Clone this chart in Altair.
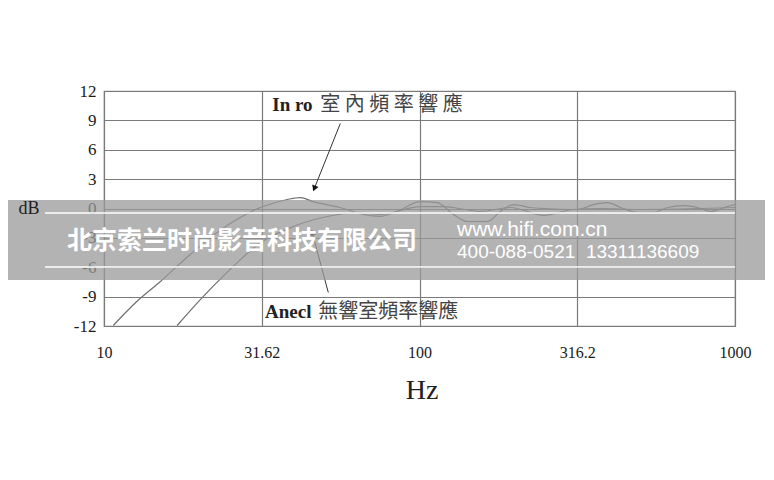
import altair as alt
import pandas as pd

# ---- data ----
room_f = [10.7, 12.7, 15.1, 18.3, 21.7, 25.7, 31.3, 38.1, 41.9, 46.0, 56.0, 66.3, 75.0, 85.0,
          100.6, 113.9, 128.1, 142.0, 164.3, 180.4, 198.5, 224.8, 247.6, 316.7, 356, 395,
          434, 491, 552, 612, 688, 761, 837, 947, 1000]
room_db = [-11.95, -9.5, -7.45, -5.0, -3.0, -1.33, 0.1, 0.92, 1.12, 0.7, 0.1, -0.6, -0.8, -0.3,
           0.7, 0.6, -0.6, -1.33, -1.33, -0.3, 0.4, 0.1, 0.0, -0.1, 0.4, 0.6,
           0.1, -0.4, -0.4, 0.1, 0.3, 0.1, -0.3, 0.2, 0.4]

anech_f = [17.05, 20.2, 24.6, 31.3, 39.8, 51.0, 64.9, 75.0, 100.6, 119.0, 156, 194, 248, 307,
           374, 503, 778, 1000]
anech_db = [-11.95, -9.3, -6.5, -3.5, -1.84, -0.82, -0.41, -0.6, 0.2, 0.2, -0.3, 0.1, -0.7, -0.1,
            0.0, -0.1, 0.0, 0.1]

x_ticks = [10, 31.62, 100, 316.2, 1000]
y_ticks = [-12, -9, -6, -3, 0, 3, 6, 9, 12]

# annotations (data coordinates)
ann_latin = ["In ro", "Anecl"]
ann_latin_f = [34.15, 32.4]
ann_cjk = ["室 內 頻 率 響 應", "無響室頻率響應"]
ann_cjk_f = [48.5, 47.8]
ann_db = [10.62, -10.62]

arrow_tail_f = [56.1, 51.4]
arrow_tail_db = [8.68, -8.58]
arrow_head_f = [46.4, 45.7]
arrow_head_db = [2.04, -2.45]
arrow_angle = [202, 346]

company = "北京索兰时尚影音科技有限公司"
site = "www.hifi.com.cn"
phone = "400-088-0521\u00a0\u00a013311136609"

# ---- tables ----
curves = pd.concat([
    pd.DataFrame({"f": room_f, "db": room_db, "s": "room"}),
    pd.DataFrame({"f": anech_f, "db": anech_db, "s": "anech"}),
])
ann_l = pd.DataFrame({"f": ann_latin_f, "db": ann_db, "t": ann_latin})
ann_c = pd.DataFrame({"f": ann_cjk_f, "db": ann_db, "t": ann_cjk})
arrows = pd.DataFrame({"f": arrow_tail_f, "db": arrow_tail_db,
                       "f2": arrow_head_f, "db2": arrow_head_db, "a": arrow_angle})
one = pd.DataFrame({"k": [0]})

xs = alt.Scale(type="log", domain=[10, 1000], nice=False)
ys = alt.Scale(domain=[-12, 12], nice=False)

x_axis = alt.Axis(
    values=x_ticks, format=".4~g", title=None, grid=True, ticks=False, domain=False,
    labelFont="Liberation Serif", labelFontSize=16, labelColor="#1a1a1a",
    labelPadding=18, gridColor="#7a7a7a", gridWidth=1.2, labelFlush=False,
    labelOverlap=False)
y_axis = alt.Axis(
    values=y_ticks, title=None, grid=True, ticks=False, domain=False,
    labelExpr="toString(datum.value)",
    labelFont="Liberation Serif", labelFontSize=17, labelColor="#1a1a1a",
    labelPadding=8, gridColor="#7a7a7a", gridWidth=1.2, labelOverlap=False)


def xq(field):
    return alt.X(field, type="quantitative", scale=xs, axis=x_axis)


def yq(field):
    return alt.Y(field, type="quantitative", scale=ys, axis=y_axis)


lines = alt.Chart(curves).mark_line(strokeWidth=1.2, interpolate="monotone").encode(
    x=xq("f"), y=yq("db"),
    detail="s:N",
    color=alt.value("#6e6e6e"),
)

t_latin = alt.Chart(ann_l).mark_text(
    align="left", baseline="middle", font="Liberation Serif", fontSize=19,
    fontWeight="bold", color="#222").encode(x=xq("f"), y=yq("db"), text="t:N")
t_cjk = alt.Chart(ann_c).mark_text(
    align="left", baseline="middle", font="Noto Sans CJK TC", fontSize=20,
    color="#444").encode(x=xq("f"), y=yq("db"), text="t:N")

arrow_lines = alt.Chart(arrows).mark_rule(color="#333", strokeWidth=1).encode(
    x=xq("f"), y=yq("db"), x2="f2:Q", y2="db2:Q")
arrow_heads = alt.Chart(arrows).mark_point(
    shape="triangle-up", filled=True, size=45, color="#111", opacity=1).encode(
    x=xq("f2"), y=yq("db2"), angle=alt.Angle("a:Q", scale=None))

band = alt.Chart(one).mark_rect(color="#9a9a9a", opacity=0.75).encode(
    x=alt.value(-100), x2=alt.value(670), y=alt.value(109), y2=alt.value(189))
wl1 = alt.Chart(one).mark_rule(color="white", strokeWidth=1.5).encode(
    x=alt.value(-59), x2=alt.value(631), y=alt.value(122))
wl2 = alt.Chart(one).mark_rule(color="white", strokeWidth=1.5).encode(
    x=alt.value(-59), x2=alt.value(631), y=alt.value(176))

wm1 = alt.Chart(one).mark_text(
    text=company, align="center", baseline="middle", font="Noto Sans CJK SC",
    fontSize=25, fontWeight="bold", color="white").encode(x=alt.value(138), y=alt.value(150))
wm2 = alt.Chart(one).mark_text(
    text=site, align="left", baseline="middle", font="Liberation Sans",
    fontSize=21, color="white").encode(x=alt.value(353), y=alt.value(139))
wm3 = alt.Chart(one).mark_text(
    text=phone, align="left", baseline="middle", font="Liberation Sans",
    fontSize=19, color="white").encode(x=alt.value(353), y=alt.value(161))

db_lbl = alt.Chart(one).mark_text(
    text="dB", align="center", baseline="middle", font="Liberation Serif",
    fontSize=18, color="#222").encode(x=alt.value(-75), y=alt.value(118))
hz_lbl = alt.Chart(one).mark_text(
    text="Hz", align="center", baseline="middle", font="Liberation Serif",
    fontSize=28, color="#222").encode(x=alt.value(318), y=alt.value(300))

chart = alt.layer(
    lines, arrow_lines, arrow_heads, t_latin, t_cjk,
    band, wl1, wl2, wm1, wm2, wm3, db_lbl, hz_lbl
).properties(
    width=631, height=235,
    autosize=alt.AutoSizeParams(type="none"),
    padding={"left": 96, "top": 83, "right": 30, "bottom": 140},
    background="white",
).configure_view(stroke="#888", strokeWidth=1.2)

chart.save("out.html", embed_options={"renderer": "svg", "actions": False})
